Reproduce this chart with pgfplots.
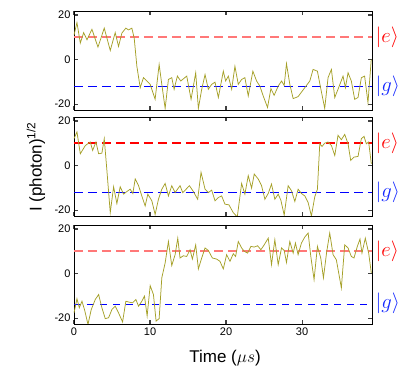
\documentclass[border=0pt]{standalone}
\usepackage{fontspec}
\setmainfont{Liberation Sans}
\usepackage{pgfplots}
\pgfplotsset{compat=1.18}
\definecolor{tracecol}{RGB}{165,160,40}
\definecolor{lightred}{RGB}{255,120,120}
\definecolor{ered}{RGB}{255,0,0}
\definecolor{eblue}{RGB}{0,0,255}
\definecolor{gblue}{RGB}{20,40,255}
\tikzset{statelab/.style={anchor=west, inner sep=0pt, font=\huge}}
\pgfplotsset{
  panel/.style={
    scale only axis, width=298pt, height=99pt, anchor=south west,
    xmin=0, xmax=39.2, ymin=-22.6, ymax=21.8,
    xtick={0,10,20,30}, ytick={-20,0,20}, yticklabels={-20,0,20},
    tick align=inside, major tick length=4pt,
    tick style={line width=1.1pt, black!75},
    axis line style={line width=0.9pt},
    tick label style={font=\fontsize{11}{13}\selectfont},
    /pgf/number format/assume math mode=true,
    clip mode=individual,
  },
  tracestyle/.style={draw=tracecol, line width=0.75pt, no marks},
  lev/.style={mark=none, line width=1.7pt, dash pattern=on 9pt off 5pt},
}
\begin{document}
\begin{tikzpicture}
\useasboundingbox (0pt,0pt) rectangle (416pt,377pt);
% Panel 1
\begin{axis}[panel, at={(74pt,267pt)}, xticklabels={}]
\addplot[lev, color=lightred] coordinates {(0,10) (39.2,10)};
\addplot[lev, color=eblue, line width=1.4pt] coordinates {(0,-12) (39.2,-12)};
\addplot[tracestyle] coordinates {
(0.0,11.0) (0.39,16.6) (0.83,7.4) (1.27,12.1) (1.71,8.9) (2.36,13.6) (3.15,5.6) (3.98,14.1) (4.77,4.1) (5.42,12.1) (5.86,5.9) (6.30,11.9) (6.82,14.1) (7.17,13.3) (7.61,14.1) (7.92,9.6) (8.27,-3) (8.71,-12.6) (9.14,-8.1) (10.02,-11.1) (10.67,-17.8) (11.2,-2.2) (11.55,-11.1) (11.99,-21.9) (12.42,-8.9) (12.86,-8.1) (13.17,-13.3) (13.6,-7.4) (14.04,-9.6) (14.83,-7.4) (15.4,-17.8) (16.01,-5.9) (16.36,-21.9) (16.8,-13.3) (17.24,-6.7) (17.67,-13.3) (18.11,-11.1) (18.55,-10.1) (18.99,-17) (19.64,-5.2) (19.95,-9.6) (20.3,-7.4) (20.74,-13.3) (21.17,-3) (21.61,-11.1) (22.05,-8.9) (22.48,-8.1) (22.92,-16.3) (23.53,-5.2) (24.02,-9.6) (24.45,-11.9) (24.89,-16.3) (25.46,-21.5) (25.9,-13) (26.33,-16) (26.86,-11.9) (27.3,-9.6) (27.65,-11.6) (27.95,-1.8) (28.39,-11.1) (28.83,-17.5) (29.48,-16.6) (30.36,-12.6) (31.02,-9.6) (31.45,-4.4) (32.02,-5.2) (32.46,-13) (32.98,-21.9) (33.42,-8.1) (33.86,-4.4) (34.3,-17) (34.73,-13.3) (35.39,-7.4) (35.7,-12.6) (36.05,-5.9) (36.48,-9.6) (36.92,-17.8) (37.36,-17) (37.8,-8.1) (38.23,-7.4) (38.67,-19.3) (39.1,0)
};
\node[statelab, text=ered] at (axis cs:39.2,10) {\,$|e\rangle$};
\node[statelab, text=gblue] at (axis cs:39.2,-12) {\,$|g\rangle$};
\end{axis}
% Panel 2
\begin{axis}[panel, at={(74pt,161pt)}, xticklabels={}]
\addplot[lev, color=ered] coordinates {(0,10) (39.2,10)};
\addplot[lev, color=eblue, line width=1.4pt] coordinates {(0,-12) (39.2,-12)};
\addplot[tracestyle] coordinates {
(0,12.1) (0.39,15.1) (0.83,5.3) (1.49,9) (2.14,10.6) (2.45,6.8) (2.89,10.6) (3.24,5.3) (3.67,5.6) (3.98,12.1) (4.33,-2.3) (4.77,-21.1) (5.21,-9.5) (5.64,-17) (6.08,-9.5) (6.52,-12.8) (6.96,-11.6) (7.39,-10.6) (7.74,-12.5) (8.05,-6) (8.49,-9) (8.92,-13.6) (9.36,-18.1) (9.71,-12.8) (10.24,-15.8) (10.67,-21.9) (11.11,-15.1) (11.55,-10.6) (11.99,-8) (12.42,-13.6) (12.86,-9) (13.3,-12.1) (13.95,-9) (14.3,-12.1) (14.74,-10.6) (15.18,-9) (15.7,-11.6) (16.27,-15.1) (16.71,-3) (17.24,-10.6) (17.67,-12.1) (18.11,-11) (18.55,-15.8) (18.99,-14.3) (19.42,-13.6) (19.86,-17.3) (20.38,-17.6) (20.95,-21.1) (21.48,-23) (22.05,-8) (22.48,-12.8) (22.92,-4.5) (23.36,-10.1) (23.71,-3.8) (24.23,-6) (24.67,-9) (25.11,-15.1) (25.55,-12.5) (25.98,-8.3) (26.42,-15.1) (26.86,-12.8) (27.21,-15.5) (27.65,-22.2) (28.17,-9) (28.61,-11.3) (29.05,-16.1) (29.48,-10.6) (29.92,-12.5) (30.36,-13.6) (30.8,-16.6) (31.23,-22.6) (31.67,-14) (32.02,-10.6) (32.33,9.8) (32.63,8.6) (32.98,10.1) (33.42,10.6) (33.86,9) (34.3,4.5) (34.73,13.6) (35.17,11.6) (35.61,14) (36.05,9.8) (36.4,2.3) (36.83,3.8) (37.36,4.1) (37.8,12.1) (38.15,13.1) (38.45,9.8) (38.76,10.6) (39.11,0.8)
};
\node[statelab, text=ered] at (axis cs:39.2,10) {\,$|e\rangle$};
\node[statelab, text=gblue] at (axis cs:39.2,-12) {\,$|g\rangle$};
\end{axis}
% Panel 3
\begin{axis}[panel, at={(74pt,53pt)}, xticklabels={0,10,20,30}]
\addplot[lev, color=lightred] coordinates {(0,10) (39.2,10)};
\addplot[mark=none, color=eblue, line width=1.0pt, dash pattern=on 7pt off 6pt] coordinates {(0,-14) (39.2,-14)};
\addplot[tracestyle] coordinates {
(0,-17.6) (0.39,-11.3) (0.7,-15.3) (1.05,-12.4) (1.4,-16.4) (1.84,-22.8) (2.27,-16.1) (2.8,-11.6) (3.24,-9.4) (3.67,-15.3) (4.11,-20.2) (4.55,-19.8) (4.99,-16.1) (5.42,-14.6) (5.86,-17.6) (6.39,-21.7) (6.82,-12.4) (7.26,-12.8) (7.7,-13.1) (8.14,-11.6) (8.49,-14.6) (8.92,-12.4) (9.27,-10.1) (9.62,-19) (10.02,-5.4) (10.45,-9.4) (10.8,-21.3) (11.2,-20.2) (11.55,-1.9) (11.99,4.8) (12.42,14.4) (12.86,3.6) (13.3,8.5) (13.65,15.9) (13.95,7) (14.39,8) (14.83,7.7) (15.27,10.7) (15.57,6.5) (16.01,12.9) (16.36,2.1) (16.8,7) (17.24,11.5) (17.67,10.4) (18.2,7) (18.77,6.5) (19.2,5.5) (19.64,2.1) (20.08,8.5) (20.52,5.5) (20.95,8.9) (21.26,7.7) (21.61,14.4) (22.05,11.5) (22.4,10) (22.83,9.2) (23.27,12.2) (23.71,11.9) (24.15,12.5) (24.58,10.7) (25.02,12.9) (25.55,15.9) (25.98,4) (26.42,15.2) (26.86,4) (27.3,11.5) (27.65,10.4) (27.95,5) (28.39,14.4) (28.83,9.2) (29.13,13.7) (29.48,8.5) (29.92,13.7) (30.36,16.4) (30.8,18.2) (31.15,7.7) (31.58,-2.7) (32.02,12.2) (32.46,7) (32.81,-1.9) (33.25,10) (33.64,18.2) (34.08,8.5) (34.51,6.2) (35.17,-6.4) (35.61,12.9) (36.05,11.5) (36.48,7.7) (36.83,7) (37.27,12.2) (37.62,15.5) (37.88,9.2) (38.32,15.9) (38.76,9.2) (39.11,0.3)
};
\node[statelab, text=ered] at (axis cs:39.2,10) {\,$|e\rangle$};
\node[statelab, text=gblue] at (axis cs:39.2,-13.5) {\,$|g\rangle$};
\end{axis}
\node[anchor=base, font=\fontsize{17}{20}\selectfont] at (225pt,14pt) {Time ($\mu s$)};
\node[rotate=90, font=\fontsize{17}{20}\selectfont] at (36pt,210pt) {I (photon)\textsuperscript{1/2}};
\end{tikzpicture}
\end{document}
